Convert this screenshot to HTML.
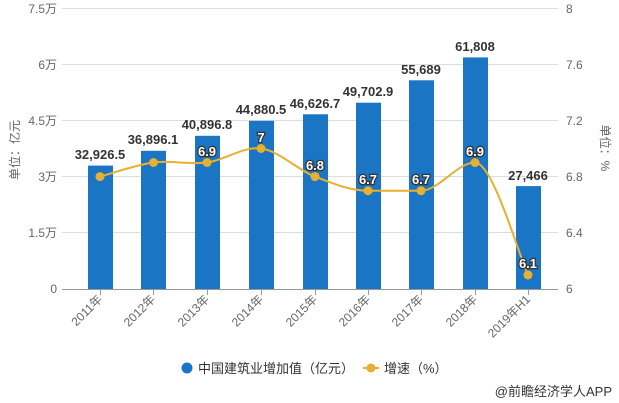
<!DOCTYPE html>
<html><head><meta charset="utf-8"><style>
body{margin:0;background:#fff;}
svg{display:block;font-family:"Liberation Sans","Noto Sans CJK SC",sans-serif;}
.t{font-size:12px;fill:#666;}
.bl{font-size:13px;font-weight:bold;fill:#333;text-anchor:middle;}
.ll{font-size:13px;font-weight:bold;fill:#fff;stroke:#333;stroke-width:2.5px;paint-order:stroke;text-anchor:middle;}
</style></head><body>
<svg width="619" height="403" viewBox="0 0 619 403">
<g stroke="#ddd" stroke-width="1">
<line x1="62" x2="558" y1="8.5" y2="8.5"/><line x1="62" x2="558" y1="64.5" y2="64.5"/>
<line x1="62" x2="558" y1="120.5" y2="120.5"/><line x1="62" x2="558" y1="176.5" y2="176.5"/>
<line x1="62" x2="558" y1="232.5" y2="232.5"/>
</g>
<line x1="62" x2="558" y1="289.5" y2="289.5" stroke="#999"/>
<g stroke="#999"><line x1="100.5" x2="100.5" y1="289" y2="295"/><line x1="153.5" x2="153.5" y1="289" y2="295"/><line x1="207.5" x2="207.5" y1="289" y2="295"/><line x1="261.5" x2="261.5" y1="289" y2="295"/><line x1="315.5" x2="315.5" y1="289" y2="295"/><line x1="368.5" x2="368.5" y1="289" y2="295"/><line x1="421.5" x2="421.5" y1="289" y2="295"/><line x1="475.5" x2="475.5" y1="289" y2="295"/><line x1="528.5" x2="528.5" y1="289" y2="295"/></g>
<g class="t" text-anchor="end">
<text x="57" y="13">7.5万</text><text x="57" y="69">6万</text><text x="57" y="125">4.5万</text><text x="57" y="181">3万</text><text x="57" y="237">1.5万</text><text x="57" y="293">0</text>
</g>
<g class="t">
<text x="566" y="13">8</text><text x="566" y="69">7.6</text><text x="566" y="125">7.2</text><text x="566" y="181">6.8</text><text x="566" y="237">6.4</text><text x="566" y="293">6</text>
</g>
<text class="t" transform="translate(19,150) rotate(-90)" text-anchor="middle">单位：亿元</text>
<text class="t" transform="translate(601,148) rotate(90)" text-anchor="middle">单位：%</text>
<g fill="#1a75c4">
<rect x="88" y="165.6" width="25" height="123.4"/>
<rect x="141" y="150.8" width="25" height="138.2"/>
<rect x="195" y="135.8" width="25" height="153.2"/>
<rect x="249" y="120.8" width="25" height="168.2"/>
<rect x="303" y="114.3" width="25" height="174.7"/>
<rect x="356" y="102.7" width="25" height="186.3"/>
<rect x="409" y="80.3" width="25" height="208.7"/>
<rect x="463" y="57.4" width="25" height="231.6"/>
<rect x="516" y="186.1" width="25" height="102.9"/>
</g>
<g class="bl">
<text x="100" y="159">32,926.5</text><text x="153" y="144">36,896.1</text><text x="207" y="129">40,896.8</text><text x="261" y="114">44,880.5</text><text x="315" y="108">46,626.7</text><text x="368" y="96">49,702.9</text><text x="421" y="74">55,689</text><text x="475" y="51">61,808</text><text x="528" y="180">27,466</text>
</g>
<path d="M100,176.6 C108.9,174.3 135.7,164.9 153.5,162.5 C171.3,160.2 189.1,164.8 207,162.5 C224.9,160.2 243,146.2 261,148.5 C279,150.85 297.2,169.6 315,176.6 C332.8,183.6 350.3,190.7 368,190.7 C385.7,190.7 403.2,190.7 421,190.7 C438.8,190.7 457,162.5 475,162.5 C493,162.5 519,256 528,275" fill="none" stroke="#e8b030" stroke-width="2"/>
<g fill="#e8b030">
<circle cx="100" cy="176.6" r="4.5"/><circle cx="153.5" cy="162.5" r="4.5"/><circle cx="207" cy="162.5" r="4.5"/><circle cx="261" cy="148.5" r="4.5"/><circle cx="315" cy="176.6" r="4.5"/><circle cx="368" cy="190.7" r="4.5"/><circle cx="421" cy="190.7" r="4.5"/><circle cx="475" cy="162.5" r="4.5"/><circle cx="528" cy="275" r="4.5"/>
</g>
<g class="ll">
<text x="207" y="156">6.9</text><text x="261" y="142">7</text><text x="315" y="170">6.8</text><text x="368" y="184">6.7</text><text x="421" y="184">6.7</text><text x="475" y="156">6.9</text><text x="528" y="268">6.1</text>
</g>
<g class="t" text-anchor="end">
<text transform="translate(103,300) rotate(-45)">2011年</text>
<text transform="translate(156,300) rotate(-45)">2012年</text>
<text transform="translate(210,300) rotate(-45)">2013年</text>
<text transform="translate(264,300) rotate(-45)">2014年</text>
<text transform="translate(318,300) rotate(-45)">2015年</text>
<text transform="translate(371,300) rotate(-45)">2016年</text>
<text transform="translate(424,300) rotate(-45)">2017年</text>
<text transform="translate(478,300) rotate(-45)">2018年</text>
<text transform="translate(531,300) rotate(-45)">2019年H1</text>
</g>
<circle cx="187" cy="368" r="5.5" fill="#1a75c4"/>
<text x="198" y="373" style="font-size:13px;fill:#333">中国建筑业增加值（亿元）</text>
<line x1="363" x2="379" y1="368" y2="368" stroke="#e8b030" stroke-width="2"/>
<circle cx="371" cy="368" r="4.5" fill="#e8b030"/>
<text x="384" y="373" style="font-size:13px;fill:#333">增速（%）</text>
<text x="612" y="396" text-anchor="end" style="font-size:13px;fill:#333">@前瞻经济学人APP</text>
</svg>
</body></html>
